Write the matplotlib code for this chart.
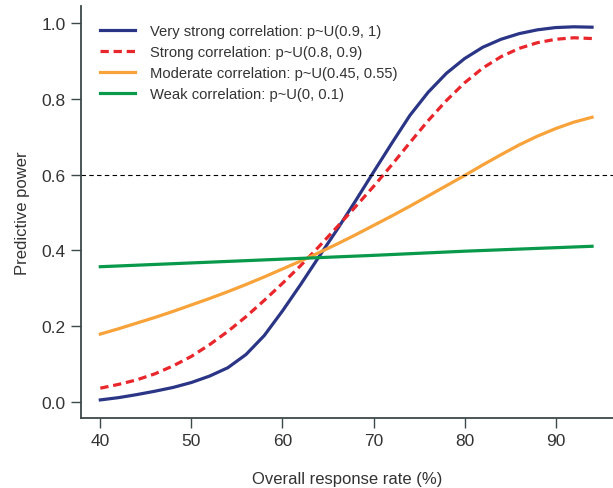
import matplotlib
matplotlib.use("Agg")
import matplotlib.pyplot as plt

# valeurs
x_very = [40, 42, 44, 46, 48, 50, 52, 54, 56, 58, 60, 62, 64, 66, 68, 70,
          72, 74, 76, 78, 80, 82, 84, 86, 88, 90, 92, 94]
y_very = [0.005, 0.011, 0.019, 0.028, 0.038, 0.051, 0.068, 0.090, 0.125, 0.175,
          0.240, 0.310, 0.383, 0.455, 0.530, 0.607, 0.683, 0.757, 0.818, 0.868,
          0.907, 0.937, 0.958, 0.973, 0.983, 0.989, 0.991, 0.990]

x_strong = [40, 42, 44, 46, 48, 50, 52, 54, 56, 58, 60, 62, 64, 66, 68, 70,
            72, 74, 76, 78, 80, 82, 84, 86, 88, 90, 92, 94]
y_strong = [0.036, 0.046, 0.058, 0.074, 0.095, 0.120, 0.151, 0.186, 0.225, 0.268,
            0.313, 0.360, 0.410, 0.462, 0.515, 0.569, 0.626, 0.685, 0.743, 0.796,
            0.843, 0.882, 0.912, 0.934, 0.949, 0.958, 0.962, 0.960]

x_moderate = [40, 42, 44, 46, 48, 50, 52, 54, 56, 58, 60, 62, 64, 66, 68, 70,
              72, 74, 76, 78, 80, 82, 84, 86, 88, 90, 92, 94]
y_moderate = [0.179, 0.193, 0.208, 0.223, 0.239, 0.256, 0.273, 0.291, 0.310, 0.330,
              0.351, 0.372, 0.394, 0.417, 0.441, 0.466, 0.491, 0.517, 0.544, 0.571,
              0.598, 0.626, 0.653, 0.679, 0.702, 0.722, 0.739, 0.752]

x_weak = [40, 50, 60, 70, 80, 94]
y_weak = [0.357, 0.367, 0.377, 0.387, 0.398, 0.411]

labels = ["Very strong correlation: p~U(0.9, 1)",
          "Strong correlation: p~U(0.8, 0.9)",
          "Moderate correlation: p~U(0.45, 0.55)",
          "Weak correlation: p~U(0, 0.1)"]

plt.rcParams['font.family'] = ['Liberation Sans', 'DejaVu Sans']
txt = "#333333"
spine_col = "#3d4848"

fig = plt.figure(figsize=(6.13, 4.89), dpi=100)
ax = fig.add_axes([0.1317, 0.143, 0.8683, 0.8427])

ax.plot(x_very, y_very, color="#2b3586", lw=2.3, label=labels[0])
ax.plot(x_strong, y_strong, color="#e8262b", lw=2.3, ls=(0, (2.6, 1.5)), label=labels[1])
ax.plot(x_moderate, y_moderate, color="#f8a23a", lw=2.3, label=labels[2])
ax.plot(x_weak, y_weak, color="#08994a", lw=2.3, label=labels[3])
ax.axhline(0.6, color="black", lw=0.8, ls=(0, (4, 3)))

ax.set_xlim(37.85, 96.3)
ax.set_ylim(-0.043, 1.046)
ax.set_xticks([40, 50, 60, 70, 80, 90])
ax.set_yticks([0.0, 0.2, 0.4, 0.6, 0.8, 1.0])
ax.set_yticklabels(["0.0", "0.2", "0.4", "0.6", "0.8", "1.0"])

for s in ["top", "right"]:
    ax.spines[s].set_visible(False)
for s in ["left", "bottom"]:
    ax.spines[s].set_color(spine_col)
    ax.spines[s].set_linewidth(1.3)
ax.tick_params(length=7, width=1, color=spine_col, labelsize=12.5,
               labelcolor=txt, pad=4)

ax.set_xlabel("Overall response rate (%)", fontsize=12, color=txt, labelpad=16)
ax.set_ylabel("Predictive power", fontsize=12, color=txt, labelpad=8)

ax.legend(loc="upper left", bbox_to_anchor=(0.012, 0.988), frameon=False,
          fontsize=10.6, labelcolor=txt, handlelength=2.35, handletextpad=1.0,
          labelspacing=0.48)

fig.savefig("out.png", dpi=100)
